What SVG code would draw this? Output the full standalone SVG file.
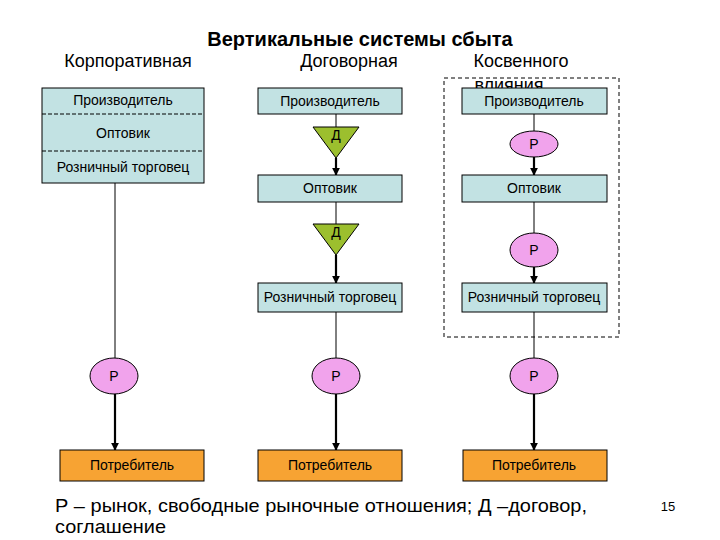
<svg xmlns="http://www.w3.org/2000/svg" width="720" height="540" viewBox="0 0 720 540">
<defs>
<style>
text{font-family:"Liberation Sans",Arial,sans-serif;fill:#000}
.box{fill:#c2e2e3;stroke:#000;stroke-width:1}
.cons{fill:#f7a333;stroke:#000;stroke-width:1}
.mk{fill:#f1a3ec;stroke:#000;stroke-width:1}
.tri{fill:#9cbf2e;stroke:#000;stroke-width:1}
.lbl{font-size:14px;text-anchor:middle}
.hd{font-size:18px;text-anchor:middle}
.thin{stroke:#000;stroke-width:1;fill:none}
.thick{stroke:#000;stroke-width:2.2;fill:none;marker-end:url(#ah)}
</style>
<marker id="ah" viewBox="0 0 10 10" refX="9" refY="5" markerWidth="3.5" markerHeight="3.5" orient="auto" markerUnits="strokeWidth">
<path d="M0,0 L10,5 L0,10 z" fill="#000"/>
</marker>
</defs>
<rect width="720" height="540" fill="#fff"/>

<text x="360" y="46" font-size="20" font-weight="bold" text-anchor="middle">Вертикальные системы сбыта</text>
<text x="128" y="67" class="hd">Корпоративная</text>
<text x="349" y="67" class="hd">Договорная</text>
<text x="521" y="67" class="hd">Косвенного</text>
<text x="509" y="91" class="hd">влияния</text>

<rect x="444" y="78" width="175" height="259" fill="none" stroke="#000" stroke-width="1" stroke-dasharray="4,3"/>

<g id="connectors">
<line class="thin" x1="115" y1="183" x2="115" y2="358"/>
<line class="thick" x1="115" y1="394" x2="115" y2="450"/>
<line class="thin" x1="336" y1="114" x2="336" y2="127"/>
<line class="thick" x1="336" y1="158" x2="336" y2="175"/>
<line class="thin" x1="336" y1="202" x2="336" y2="224"/>
<line class="thick" x1="336" y1="255" x2="336" y2="283"/>
<line class="thin" x1="336" y1="312" x2="336" y2="358"/>
<line class="thick" x1="336" y1="394" x2="336" y2="450"/>
<line class="thin" x1="534" y1="114" x2="534" y2="131"/>
<line class="thick" x1="534" y1="157" x2="534" y2="175"/>
<line class="thin" x1="534" y1="202" x2="534" y2="233"/>
<line class="thick" x1="534" y1="267" x2="534" y2="283"/>
<line class="thin" x1="534" y1="312" x2="534" y2="358"/>
<line class="thick" x1="534" y1="394" x2="534" y2="450"/>
</g>

<g id="corp">
<rect class="box" x="42" y="88" width="162" height="95"/>
<line x1="42" y1="114" x2="204" y2="114" stroke="#000" stroke-dasharray="4,2"/>
<line x1="42" y1="151" x2="204" y2="151" stroke="#000" stroke-dasharray="4,2"/>
<text x="123" y="105" class="lbl">Производитель</text>
<text x="123" y="138" class="lbl">Оптовик</text>
<text x="123" y="172" class="lbl">Розничный торговец</text>
</g>

<g id="m-prod"><rect class="box" x="258" y="88" width="144" height="26"/><text x="330" y="106" class="lbl">Производитель</text></g>
<g id="m-d1"><polygon class="tri" points="313,127 359,127 336,158"/><text x="336" y="140" class="lbl">Д</text></g>
<g id="m-opt"><rect class="box" x="258" y="175" width="144" height="27"/><text x="330" y="193" class="lbl">Оптовик</text></g>
<g id="m-d2"><polygon class="tri" points="313,224 359,224 336,255"/><text x="336" y="237" class="lbl">Д</text></g>
<g id="m-ret"><rect class="box" x="258" y="283" width="144" height="29"/><text x="330" y="302" class="lbl">Розничный торговец</text></g>

<g id="r-prod"><rect class="box" x="462" y="88" width="145" height="26"/><text x="534" y="106" class="lbl">Производитель</text></g>
<g id="r-p1"><ellipse class="mk" cx="534" cy="144" rx="24" ry="13"/><text x="534" y="149" class="lbl">Р</text></g>
<g id="r-opt"><rect class="box" x="462" y="175" width="145" height="27"/><text x="534" y="193" class="lbl">Оптовик</text></g>
<g id="r-p2"><ellipse class="mk" cx="534" cy="250" rx="24" ry="17"/><text x="534" y="255" class="lbl">Р</text></g>
<g id="r-ret"><rect class="box" x="462" y="283" width="145" height="29"/><text x="534" y="302" class="lbl">Розничный торговец</text></g>

<g id="l-p"><ellipse class="mk" cx="114" cy="376" rx="24" ry="18"/><text x="114" y="381" class="lbl">Р</text></g>
<g id="m-p"><ellipse class="mk" cx="336" cy="376" rx="24" ry="18"/><text x="336" y="381" class="lbl">Р</text></g>
<g id="r-p"><ellipse class="mk" cx="534" cy="376" rx="24" ry="18"/><text x="534" y="381" class="lbl">Р</text></g>

<g id="l-cons"><rect class="cons" x="60" y="450" width="144" height="31"/><text x="132" y="470" class="lbl">Потребитель</text></g>
<g id="m-cons"><rect class="cons" x="258" y="450" width="144" height="31"/><text x="330" y="470" class="lbl">Потребитель</text></g>
<g id="r-cons"><rect class="cons" x="463" y="450" width="144" height="31"/><text x="534" y="470" class="lbl">Потребитель</text></g>

<text x="55" y="512" font-size="19" textLength="532" lengthAdjust="spacingAndGlyphs">Р – рынок, свободные рыночные отношения; Д –договор,</text>
<text x="55" y="533" font-size="19" textLength="111" lengthAdjust="spacingAndGlyphs">соглашение</text>
<text x="668" y="511" font-size="13" text-anchor="middle">15</text>
</svg>
